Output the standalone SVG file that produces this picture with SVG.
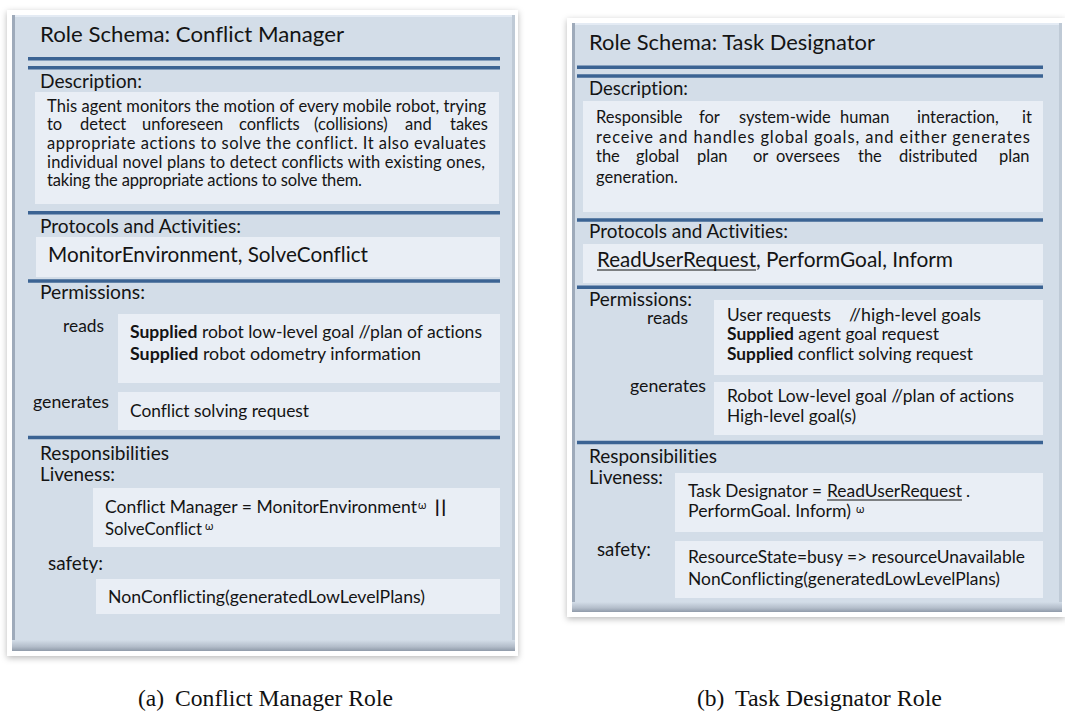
<svg xmlns="http://www.w3.org/2000/svg" width="1065" height="715" viewBox="0 0 1065 715">
<style>
  .frame { fill: #ffffff; filter: url(#shadow); }
  .panel { fill: #d3dde8; }
  .edgeL { fill: #9eaaba; }
  .edgeT { fill: #e4ebf4; }
  .edgeR { fill: #bfcad6; }
  .box { fill: #e9eef5; }
  .rule { stroke: #3b6393; stroke-width: 3.4; }
  .ul { stroke: #111; stroke-width: 1.2; }
  text { font-family: Lato, "Open Sans", "Liberation Sans", sans-serif; fill: #141414; font-variant-ligatures: none; }
  .title { font-size: 22px; }
  .hdr { font-size: 19px; }
  .proto { font-size: 20.5px; }
  .desc { font-size: 16.5px; }
  .body { font-size: 17.3px; }
  .sup { font-size: 11px; }
  .b { font-weight: bold; }
  .cap { font-family: "Liberation Serif", "Times New Roman", serif; font-size: 23.5px; fill: #111; }
</style>
<defs>
  <filter id="shadow" x="-5%" y="-5%" width="110%" height="110%">
    <feDropShadow dx="0" dy="2" stdDeviation="3" flood-color="#000" flood-opacity="0.28"/>
  </filter>
  <linearGradient id="bottomBand" x1="0" y1="0" x2="0" y2="1">
    <stop offset="0" stop-color="#d3dde8"/>
    <stop offset="0.6" stop-color="#b3bdca"/>
    <stop offset="1" stop-color="#8f9aa9"/>
  </linearGradient>
</defs>

<g id="panel-a">
  <rect class="frame" x="7" y="10" width="511" height="646"/>
  <rect class="panel" x="12" y="15" width="503" height="636"/>
  <rect class="edgeT" x="12" y="15" width="503" height="2"/>
  <rect class="edgeL" x="12" y="15" width="3" height="636"/>
  <rect class="edgeR" x="512" y="15" width="3" height="636"/>
  <rect x="12" y="640" width="503" height="11" fill="url(#bottomBand)"/>

  <text class="title" x="40" y="42" textLength="304" lengthAdjust="spacingAndGlyphs">Role Schema: Conflict Manager</text>
  <line class="rule" x1="28" y1="58.7" x2="500" y2="58.7"/>
  <line class="rule" x1="28" y1="67.7" x2="500" y2="67.7"/>

  <text class="hdr" x="40" y="88" textLength="102" lengthAdjust="spacingAndGlyphs">Description:</text>
  <rect class="box" x="35" y="92" width="464" height="112"/>
  <text class="desc" x="47" y="112" textLength="439" lengthAdjust="spacing">This agent monitors the motion of every mobile robot, trying</text>
  <text class="desc" y="130"><tspan x="47">to</tspan><tspan x="80">detect</tspan><tspan x="142">unforeseen</tspan><tspan x="239">conflicts</tspan><tspan x="314">(collisions)</tspan><tspan x="405">and</tspan><tspan x="450">takes</tspan></text>
  <text class="desc" x="47" y="149" textLength="439" lengthAdjust="spacing">appropriate actions to solve the conflict. It also evaluates</text>
  <text class="desc" x="47" y="168" textLength="438" lengthAdjust="spacing">individual novel plans to detect conflicts with existing ones,</text>
  <text class="desc" x="47" y="186" textLength="315" lengthAdjust="spacing">taking the appropriate actions to solve them.</text>
  <line class="rule" x1="28" y1="212.7" x2="500" y2="212.7"/>

  <text class="hdr" x="40" y="233" textLength="201" lengthAdjust="spacingAndGlyphs">Protocols and Activities:</text>
  <rect class="box" x="36" y="237" width="464" height="40"/>
  <text class="proto" x="48" y="262" textLength="320" lengthAdjust="spacingAndGlyphs">MonitorEnvironment, SolveConflict</text>
  <line class="rule" x1="28" y1="281" x2="500" y2="281"/>

  <text class="hdr" x="40" y="299" textLength="105" lengthAdjust="spacingAndGlyphs">Permissions:</text>
  <text class="body" x="63" y="332" textLength="41" lengthAdjust="spacingAndGlyphs">reads</text>
  <rect class="box" x="118" y="314" width="382" height="69"/>
  <text class="body" x="130" y="338" textLength="352" lengthAdjust="spacingAndGlyphs"><tspan class="b">Supplied</tspan> robot low-level goal //plan of actions</text>
  <text class="body" x="130" y="360" textLength="291" lengthAdjust="spacingAndGlyphs"><tspan class="b">Supplied</tspan> robot odometry information</text>
  <text class="body" x="33" y="408" textLength="76" lengthAdjust="spacingAndGlyphs">generates</text>
  <rect class="box" x="118" y="392" width="382" height="38"/>
  <text class="body" x="130" y="417" textLength="179" lengthAdjust="spacingAndGlyphs">Conflict solving request</text>
  <line class="rule" x1="28" y1="437.5" x2="500" y2="437.5"/>

  <text class="hdr" x="40" y="460" textLength="129" lengthAdjust="spacingAndGlyphs">Responsibilities</text>
  <text class="hdr" x="40" y="481" textLength="75" lengthAdjust="spacingAndGlyphs">Liveness:</text>
  <rect class="box" x="93" y="488" width="407" height="59"/>
  <text class="body" x="105" y="513" textLength="312" lengthAdjust="spacingAndGlyphs">Conflict Manager = MonitorEnvironment</text>
  <text class="sup" x="418" y="509">ω</text>
  <text class="body" x="434" y="513" textLength="13" lengthAdjust="spacingAndGlyphs">||</text>
  <text class="body" x="105" y="535" textLength="97" lengthAdjust="spacingAndGlyphs">SolveConflict</text>
  <text class="sup" x="205" y="530">ω</text>
  <text class="hdr" x="48" y="570" textLength="55" lengthAdjust="spacingAndGlyphs">safety:</text>
  <rect class="box" x="96" y="579" width="404" height="35"/>
  <text class="body" x="108" y="603" textLength="317" lengthAdjust="spacingAndGlyphs">NonConflicting(generatedLowLevelPlans)</text>
</g>

<g id="panel-b">
  <rect class="frame" x="567" y="18" width="498" height="599"/>
  <rect class="panel" x="572" y="23" width="490" height="589"/>
  <rect class="edgeT" x="572" y="23" width="490" height="2"/>
  <rect class="edgeL" x="572" y="23" width="3" height="589"/>
  <rect class="edgeR" x="1059" y="23" width="3" height="589"/>
  <rect x="572" y="602" width="490" height="10" fill="url(#bottomBand)"/>

  <text class="title" x="589" y="50" textLength="286" lengthAdjust="spacingAndGlyphs">Role Schema: Task Designator</text>
  <line class="rule" x1="577" y1="67.3" x2="1043" y2="67.3"/>
  <line class="rule" x1="577" y1="76" x2="1043" y2="76"/>

  <text class="hdr" x="589" y="95" textLength="99" lengthAdjust="spacingAndGlyphs">Description:</text>
  <rect class="box" x="583" y="101" width="460" height="111"/>
  <text class="desc" y="123"><tspan x="596">Responsible</tspan><tspan x="699">for</tspan><tspan x="739">system-wide</tspan><tspan x="840">human</tspan><tspan x="917">interaction,</tspan><tspan x="1022">it</tspan></text>
  <text class="desc" x="596" y="143" textLength="434" lengthAdjust="spacing">receive and handles global goals, and either generates</text>
  <text class="desc" y="162"><tspan x="596">the</tspan><tspan x="636">global</tspan><tspan x="697">plan</tspan><tspan x="753">or</tspan><tspan x="776">oversees</tspan><tspan x="858">the</tspan><tspan x="899">distributed</tspan><tspan x="999">plan</tspan></text>
  <text class="desc" x="596" y="183" textLength="82" lengthAdjust="spacing">generation.</text>
  <line class="rule" x1="577" y1="220" x2="1043" y2="220"/>

  <text class="hdr" x="589" y="238" textLength="199" lengthAdjust="spacingAndGlyphs">Protocols and Activities:</text>
  <rect class="box" x="583" y="244" width="460" height="39"/>
  <text class="proto" x="597" y="267" textLength="159" lengthAdjust="spacingAndGlyphs">ReadUserRequest</text>
  <line class="ul" x1="597" y1="270" x2="756" y2="270"/>
  <text class="proto" x="756" y="267" textLength="197" lengthAdjust="spacingAndGlyphs">, PerformGoal, Inform</text>
  <line class="rule" x1="577" y1="287.3" x2="1043" y2="287.3"/>

  <text class="hdr" x="589" y="306" textLength="103" lengthAdjust="spacingAndGlyphs">Permissions:</text>
  <text class="body" x="647" y="324" textLength="41" lengthAdjust="spacingAndGlyphs">reads</text>
  <rect class="box" x="714" y="300" width="329" height="75"/>
  <text class="body" x="727" y="321" textLength="104" lengthAdjust="spacingAndGlyphs">User requests</text>
  <text class="body" x="849" y="321" textLength="132" lengthAdjust="spacingAndGlyphs">//high-level goals</text>
  <text class="body" x="727" y="340" textLength="212" lengthAdjust="spacingAndGlyphs"><tspan class="b">Supplied</tspan> agent goal request</text>
  <text class="body" x="727" y="360" textLength="246" lengthAdjust="spacingAndGlyphs"><tspan class="b">Supplied</tspan> conflict solving request</text>
  <text class="body" x="630" y="392" textLength="76" lengthAdjust="spacingAndGlyphs">generates</text>
  <rect class="box" x="714" y="382" width="329" height="53"/>
  <text class="body" x="727" y="402" textLength="287" lengthAdjust="spacingAndGlyphs">Robot Low-level goal //plan of actions</text>
  <text class="body" x="727" y="422" textLength="129" lengthAdjust="spacingAndGlyphs">High-level goal(s)</text>
  <line class="rule" x1="577" y1="442.5" x2="1043" y2="442.5"/>

  <text class="hdr" x="589" y="463" textLength="128" lengthAdjust="spacingAndGlyphs">Responsibilities</text>
  <text class="hdr" x="589" y="484" textLength="74" lengthAdjust="spacingAndGlyphs">Liveness:</text>
  <rect class="box" x="675" y="473" width="368" height="59"/>
  <text class="body" x="688" y="497" textLength="134" lengthAdjust="spacingAndGlyphs">Task Designator =</text>
  <text class="body" x="827" y="497" textLength="135" lengthAdjust="spacingAndGlyphs">ReadUserRequest</text>
  <line class="ul" x1="827" y1="500" x2="962" y2="500"/>
  <text class="body" x="966" y="497">.</text>
  <text class="body" x="688" y="517" textLength="163" lengthAdjust="spacingAndGlyphs">PerformGoal. Inform)</text>
  <text class="sup" x="856" y="513">ω</text>
  <text class="hdr" x="597" y="556" textLength="54" lengthAdjust="spacingAndGlyphs">safety:</text>
  <rect class="box" x="675" y="541" width="368" height="57"/>
  <text class="body" x="688" y="563" textLength="337" lengthAdjust="spacingAndGlyphs">ResourceState=busy =&gt; resourceUnavailable</text>
  <text class="body" x="688" y="585" textLength="312" lengthAdjust="spacingAndGlyphs">NonConflicting(generatedLowLevelPlans)</text>
</g>

<g id="connectors"/>

<g id="captions">
  <text class="cap" x="138" y="706">(a)</text>
  <text class="cap" x="175" y="706" textLength="218" lengthAdjust="spacingAndGlyphs">Conflict Manager Role</text>
  <text class="cap" x="697" y="706">(b)</text>
  <text class="cap" x="735" y="706" textLength="207" lengthAdjust="spacingAndGlyphs">Task Designator Role</text>
</g>
</svg>
